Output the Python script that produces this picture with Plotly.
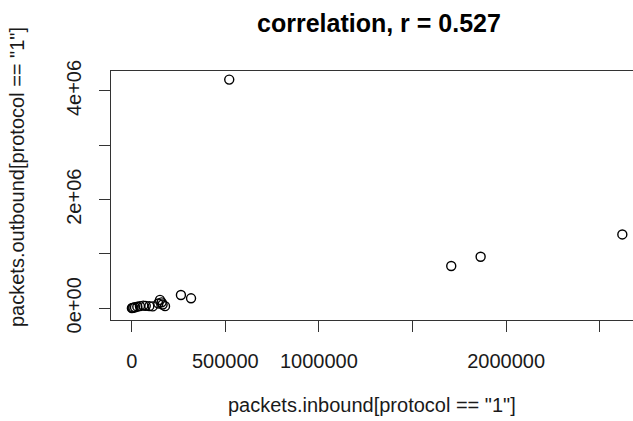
import plotly.graph_objects as go

# Data
inbound = [1000, 4000, 9000, 17600, 30000, 44000, 62000, 75000, 94000, 112000,
           142000, 151000, 160000, 165000, 178000, 263000, 317000, 521000,
           1707000, 1864000, 2621000]
outbound = [3000, 8000, 12000, 20000, 30000, 40000, 50000, 45000, 40000, 35000,
            90000, 155000, 110000, 70000, 40000, 245000, 184000, 4210000,
            778000, 949000, 1360000]

x_tickvals = [0, 500000, 1000000, 1500000, 2000000, 2500000]
x_ticktext = ["0", "500000", "1000000", "", "2000000", ""]
y_tickvals = [0, 1000000, 2000000, 3000000, 4000000]
y_ticktext = ["0e+00", "", "2e+06", "", "4e+06"]

title_text = "correlation, r = 0.527"
x_title = 'packets.inbound[protocol == "1"]'
y_title = 'packets.outbound[protocol == "1"]'

W, H = 633, 421
L, R, T, B = 111, 0, 71, 101
pw, ph = W - L - R, H - T - B

def px_x(p):
    return (p - L) / pw

def px_y(p):
    return (H - B - p) / ph

font_family = "Liberation Sans, Arial, sans-serif"
ink = "#1a1a1a"

fig = go.Figure()
fig.add_trace(go.Scatter(
    x=inbound, y=outbound, mode="markers",
    marker=dict(symbol="circle-open", size=9, color="black",
                line=dict(width=1.4, color="black")),
    showlegend=False, hoverinfo="skip", cliponaxis=False,
))

fig.update_layout(
    width=W, height=H,
    margin=dict(l=L, r=R, t=T, b=B, pad=0, autoexpand=False),
    paper_bgcolor="white", plot_bgcolor="white",
    font=dict(family=font_family, size=20, color=ink),
    xaxis=dict(
        range=[-110600, 2678000], automargin=False,
        tickmode="array", tickvals=x_tickvals, ticktext=x_ticktext,
        ticks="outside", ticklen=11, tickwidth=1, tickcolor="#333",
        showline=True, linecolor="#333", linewidth=1, mirror=True,
        showgrid=False, zeroline=False,
        tickfont=dict(size=20, color=ink),
        ticklabelstandoff=12,
    ),
    yaxis=dict(
        range=[-215000, 4368000], automargin=False,
        tickmode="array", tickvals=y_tickvals, ticktext=y_ticktext,
        ticks="outside", ticklen=11, tickwidth=1, tickcolor="#333",
        showline=True, linecolor="#333", linewidth=1, mirror=False,
        showgrid=False, zeroline=False,
        tickangle=-90,
        tickfont=dict(size=20, color=ink),
        ticklabelstandoff=10,
    ),
    annotations=[
        dict(text="<b>" + title_text + "</b>", xref="paper", yref="paper",
             x=px_x(379), y=px_y(23), xanchor="center", yanchor="middle",
             showarrow=False, font=dict(size=25, color="black", family=font_family)),
        dict(text=x_title, xref="paper", yref="paper",
             x=px_x(372), y=px_y(405), xanchor="center", yanchor="middle",
             showarrow=False, font=dict(size=20, color=ink, family=font_family)),
        dict(text=y_title, xref="paper", yref="paper",
             x=px_x(17), y=px_y(177), xanchor="center", yanchor="middle",
             textangle=-90,
             showarrow=False, font=dict(size=20, color=ink, family=font_family)),
    ],
)

fig.write_html(
    "out.html",
    config={"displayModeBar": False},
    post_script="document.body.style.margin='0';document.body.style.overflow='hidden';",
)
